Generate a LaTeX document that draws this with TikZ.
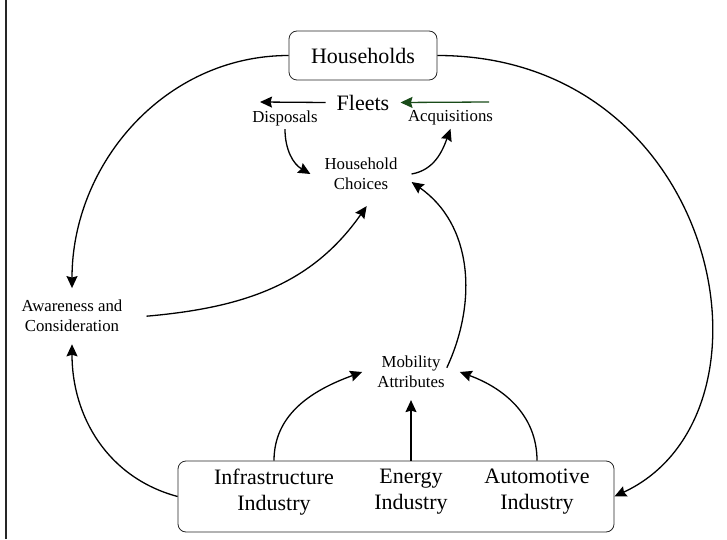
\documentclass[tikz,border=0pt]{standalone}
\usepackage{fontspec}
\setmainfont{Liberation Serif}
\usepackage[svgnames]{xcolor}
\usetikzlibrary{arrows.meta}
\definecolor{acqgreen}{RGB}{25,75,25}

\begin{document}
\begin{tikzpicture}[x=1pt,y=1pt,
	bigtxt/.style={font=\fontsize{22}{26}\selectfont,align=center},
	smalltxt/.style={font=\fontsize{16.8}{20}\selectfont,align=center},
	roundbox/.style={draw=black!85,line width=0.8pt,rounded corners=8pt},
	flow/.style={line width=1.3pt,-{Stealth[length=12pt,width=11pt,inset=1.5pt]}}]
	\useasboundingbox (0,0) rectangle (727,539);
	\draw[line width=1.4pt,black!85] (6,0)--(6,539);
	% boxes
	\node[roundbox,bigtxt,minimum width=148pt,minimum height=49pt] (hh) at (363,483.5) {Households};
	\node[roundbox,minimum width=436pt,minimum height=71pt] (ind) at (396,42.5) {};
	% labels
	\node[bigtxt,inner xsep=11pt] (fleets) at (363,436.5) {Fleets};
	\node[smalltxt] (disp) at (285,421) {Disposals};
	\node[smalltxt] (acq) at (450.5,421) {Acquisitions};
	\node[smalltxt,inner xsep=14pt,inner ysep=16pt] (choice) at (361,365) {Household\\Choices};
	\node[smalltxt,inner xsep=24pt,inner ysep=12pt] (aware) at (72,222.8) {Awareness and\\Consideration};
	\node[smalltxt,inner xsep=15pt,inner ysep=12pt] (mob) at (411,167) {Mobility\\Attributes};
	\node[bigtxt] (infra) at (274,47) {Infrastructure\\Industry};
	\node[bigtxt] (energy) at (411,47) {Energy\\Industry};
	\node[bigtxt] (auto) at (537,47) {Automotive\\Industry};
	\coordinate (dispend) at (260,437);
	\coordinate (acqstart) at (489,437);
	% flows
	\draw[flow] (fleets.west) -- (dispend);
	\draw[flow,acqgreen] (acqstart) -- (fleets.east);
	\draw[flow] (disp.south) to[out=-90,in=150] (choice.west);
	\draw[flow] (choice.east) to[out=10,in=-110] (acq.south);
	\draw[flow] (aware.east) to[out=5,in=-125] (choice.-80);
	\draw[flow] ([xshift=-13pt]mob.5) to[out=65,in=-35] (choice.-9);
	\draw[flow] (hh.west) to[out=180,in=90] (aware.north);
	\draw[flow] (hh.east) .. controls +(283,0) and +(176,82) .. (ind.east);
	\draw[flow] (ind.west) to[out=165,in=-90] (aware.south);
	\draw[flow] (infra |- ind.north) to[out=90,in=200] (mob.west);
	\draw[flow] (energy |- ind.north) -- (mob.south);
	\draw[flow] (auto |- ind.north) to[out=90,in=-20] (mob.east);
\end{tikzpicture}
\end{document}
